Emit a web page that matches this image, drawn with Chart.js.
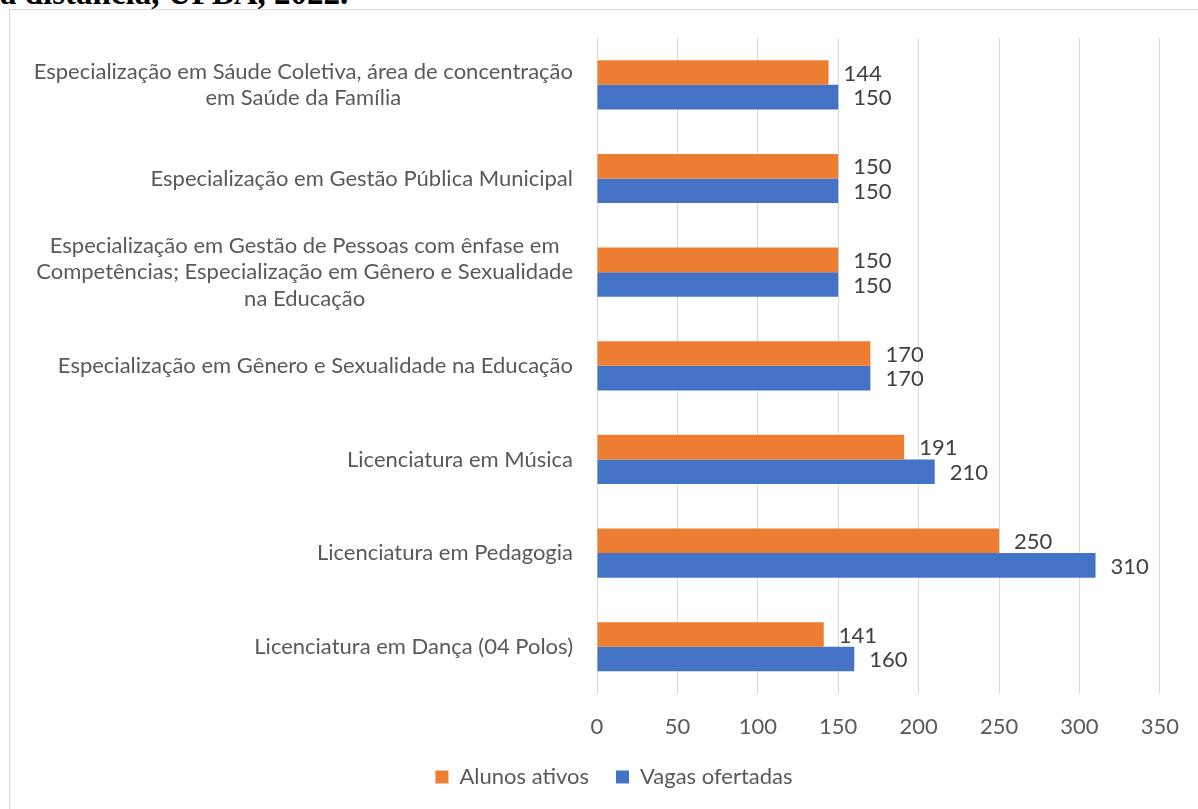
<!DOCTYPE html>
<html>
<head>
<meta charset="utf-8">
<script src="https://cdn.jsdelivr.net/npm/chart.js@4/dist/chart.umd.min.js"></script>
<style>
  body { margin: 0; background: #fff; overflow: hidden; }
  #title { position: absolute; left: 0; top: -23px; font: bold 33px/33px "Liberation Serif", serif; color: #000; white-space: nowrap; }
  #box { position: absolute; left: 9px; top: 9px; width: 1200px; height: 810px; border: 1px solid #d9d9d9; box-sizing: border-box; background: #fff; }
  #wrap { position: absolute; left: 1px; top: 1px; width: 1188px; height: 798px; }
</style>
</head>
<body>
<div id="title">a distância, UFBA, 2022.</div>
<div id="box"><div id="wrap"><canvas id="myChart"></canvas></div></div>
<script>
// course names (multi-line like the original labels)
const cursos = [
  ['Especialização em Sáude Coletiva, área de concentração', 'em Saúde da Família'],
  ['Especialização em Gestão Pública Municipal'],
  ['Especialização em Gestão de Pessoas com ênfase em', 'Competências; Especialização em Gênero e Sexualidade', 'na Educação'],
  ['Especialização em Gênero e Sexualidade na Educação'],
  ['Licenciatura em Música'],
  ['Licenciatura em Pedagogia'],
  ['Licenciatura em Dança (04 Polos)']
]
const alunosAtivos = [144, 150, 150, 170, 191, 250, 141]
const vagasOfertadas = [150, 150, 150, 170, 210, 310, 160]
const xTicks = [0, 50, 100, 150, 200, 250, 300, 350]

const FONT = 'Lato, "Open Sans", sans-serif'
const SIZE = 22

// value next to each bar
const valueLabels = {
  id: 'valueLabels',
  afterDatasetsDraw(chart) {
    const ctx = chart.ctx
    ctx.save()
    ctx.font = SIZE + 'px ' + FONT
    ctx.fillStyle = '#404040'
    ctx.textBaseline = 'middle'
    ctx.textAlign = 'left'
    chart.data.datasets.forEach(function (ds, i) {
      chart.getDatasetMeta(i).data.forEach(function (bar, j) {
        ctx.fillText(ds.data[j], bar.x + 15, bar.y + 1)
      })
    })
    ctx.restore()
  }
}

// category labels: block right aligned, lines centred inside the block (like Excel)
const categoryLabels = {
  id: 'categoryLabels',
  afterDraw(chart) {
    const ctx = chart.ctx
    const y = chart.scales.y
    const right = chart.chartArea.left - 24
    const lh = SIZE * 1.2
    ctx.save()
    ctx.font = SIZE + 'px ' + FONT
    ctx.fillStyle = '#595959'
    ctx.textBaseline = 'middle'
    ctx.textAlign = 'center'
    chart.data.labels.forEach(function (lines, i) {
      const w = Math.max.apply(null, lines.map(l => ctx.measureText(l).width))
      const cx = right - w / 2
      const cy = y.getPixelForTick(i)
      const top = cy - (lines.length - 1) * lh / 2
      lines.forEach(function (l, k) { ctx.fillText(l, cx, top + k * lh) })
    })
    ctx.restore()
  }
}

var ctx = document.getElementById('myChart').getContext('2d')
var chart = new Chart(ctx, {
  type: 'bar',
  data: {
    labels: cursos,
    datasets: [{
      label: 'Alunos ativos',
      backgroundColor: '#ed7d31',
      data: alunosAtivos
    }, {
      label: 'Vagas ofertadas',
      backgroundColor: '#4472c4',
      data: vagasOfertadas
    }]
  },
  options: {
    indexAxis: 'y',
    responsive: true,
    maintainAspectRatio: false,
    animation: false,
    layout: { padding: { top: 27, left: 46, right: 28, bottom: 11 } },
    datasets: { bar: { categoryPercentage: 0.525, barPercentage: 1 } },
    scales: {
      x: {
        min: 0, max: 350,
        afterBuildTicks(axis) { axis.ticks = xTicks.map(v => ({ value: v })) },
        afterFit(axis) { axis.height -= 21 },
        grid: { color: '#d9d9d9', lineWidth: 1, drawTicks: false },
        border: { display: false },
        ticks: { color: '#595959', font: { family: FONT, size: SIZE }, padding: 20 }
      },
      y: {
        afterFit(axis) { axis.width = 540 },
        grid: { display: false, drawTicks: false },
        border: { display: false },
        ticks: { display: false }
      }
    },
    plugins: {
      legend: {
        position: 'bottom',
        labels: { color: '#595959', font: { family: FONT, size: SIZE }, boxWidth: 13, boxHeight: 13, padding: 27 }
      },
      tooltip: { enabled: false }
    }
  },
  plugins: [valueLabels, categoryLabels]
})
</script>
</body>
</html>
